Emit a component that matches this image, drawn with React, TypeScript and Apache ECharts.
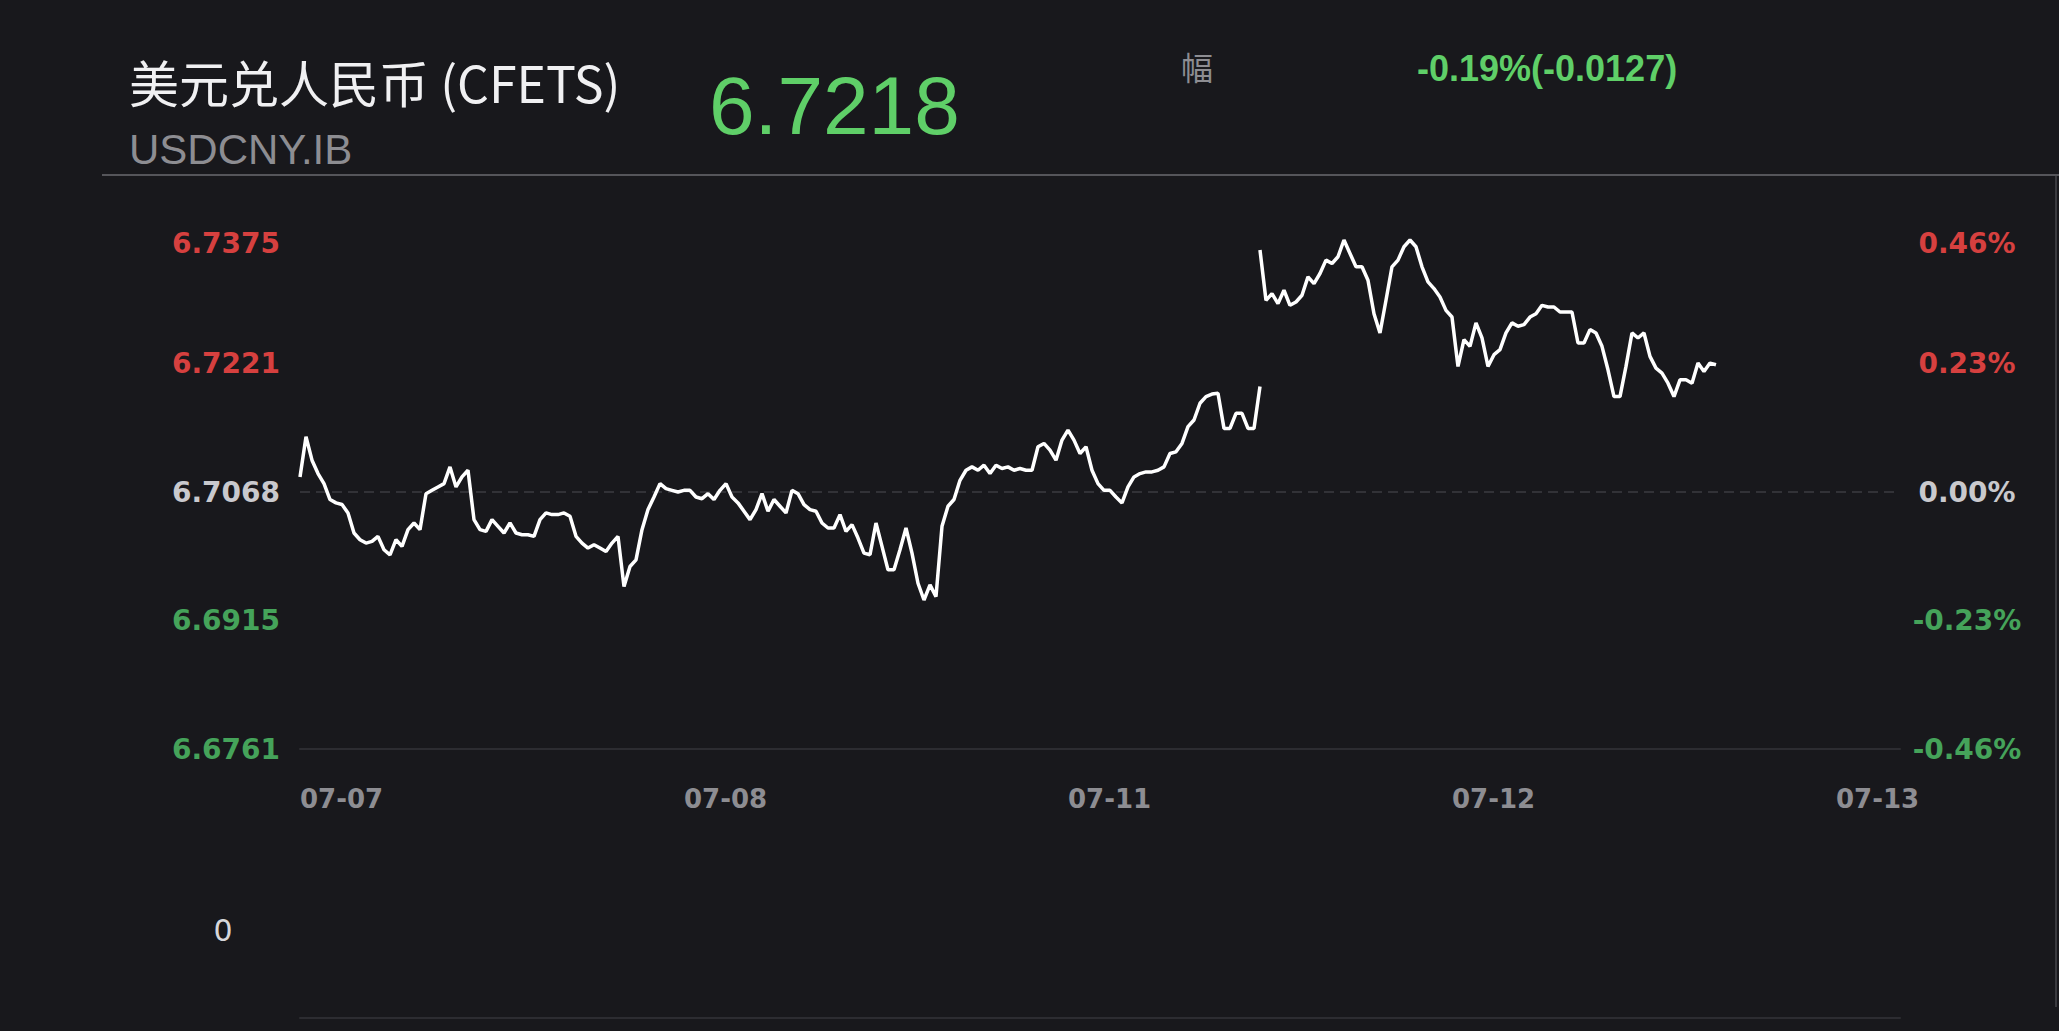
import React, { useEffect, useRef } from "react";
import * as echarts from "echarts";

// ---- data ----
const dayLabels = ["07-07", "07-08", "07-11", "07-12", "07-13"];
const priceTicks = [6.6761, 6.6915, 6.7068, 6.7221, 6.7375];
const baseValue = 6.7068;
const slotsPerDay = 64;
const axisSlots = 266.67;
const session2Start = 160;

// first session (07-07 .. mid 07-11)
const session1 = [
  6.7086, 6.7134, 6.7106, 6.709, 6.7078, 6.7059, 6.7055, 6.7053, 6.7043, 6.7019,
  6.7011, 6.7007, 6.7009, 6.7015, 6.6999, 6.6993, 6.7011, 6.7003, 6.7023, 6.7031,
  6.7023, 6.7066, 6.707, 6.7074, 6.7078, 6.7098, 6.7074, 6.7086, 6.7094, 6.7035,
  6.7023, 6.7021, 6.7035, 6.7027, 6.7019, 6.7031, 6.7019, 6.7017, 6.7017, 6.7015,
  6.7035, 6.7043, 6.7041, 6.7041, 6.7043, 6.7039, 6.7015, 6.7007, 6.7001, 6.7005,
  6.7001, 6.6997, 6.7007, 6.7015, 6.6955, 6.6979, 6.6987, 6.7023, 6.7047, 6.7062,
  6.7078, 6.7072, 6.707, 6.7068, 6.707, 6.707, 6.7062, 6.706, 6.7066, 6.7059,
  6.707, 6.7078, 6.7062, 6.7055, 6.7045, 6.7035, 6.7047, 6.7066, 6.7045, 6.7059,
  6.7051, 6.7043, 6.707, 6.7066, 6.7053, 6.7047, 6.7045, 6.7031, 6.7025, 6.7025,
  6.7041, 6.7021, 6.7029, 6.7013, 6.6995, 6.6993, 6.7031, 6.7003, 6.6975, 6.6975,
  6.6999, 6.7025, 6.6995, 6.6959, 6.6939, 6.6957, 6.6943, 6.7027, 6.7051, 6.7059,
  6.7082, 6.7094, 6.7098, 6.7094, 6.71, 6.709, 6.71, 6.7096, 6.7098, 6.7094,
  6.7096, 6.7094, 6.7094, 6.7122, 6.7126, 6.7118, 6.7106, 6.713, 6.7142, 6.713,
  6.7114, 6.7122, 6.7094, 6.7078, 6.707, 6.707, 6.7062, 6.7055, 6.7074, 6.7086,
  6.709, 6.7092, 6.7092, 6.7094, 6.7098, 6.7114, 6.7116, 6.7126, 6.7146, 6.7154,
  6.7174, 6.7182, 6.7185, 6.7186, 6.7144, 6.7144, 6.7162, 6.7162, 6.7144, 6.7144,
  6.7194,
];

// second session (mid 07-11 .. 07-12)
const session2 = [
  6.7357, 6.7297, 6.7305, 6.7293, 6.7309, 6.7291, 6.7295, 6.7303, 6.7325, 6.7317,
  6.7329, 6.7345, 6.7341, 6.7349, 6.7369, 6.7353, 6.7337, 6.7337, 6.7321, 6.7281,
  6.7258, 6.7297, 6.7337, 6.7345, 6.7361, 6.7369, 6.7361, 6.7337, 6.7319, 6.7311,
  6.7301, 6.7285, 6.7277, 6.7218, 6.725, 6.7242, 6.727, 6.7252, 6.7218, 6.7232,
  6.7238, 6.7258, 6.727, 6.7266, 6.7268, 6.7277, 6.7281, 6.7291, 6.7289, 6.7289,
  6.7283, 6.7283, 6.7283, 6.7246, 6.7246, 6.7262, 6.7258, 6.7242, 6.7214, 6.7182,
  6.7182, 6.7218, 6.7258, 6.7252, 6.7258, 6.723, 6.7216, 6.721, 6.7198, 6.7182,
  6.7202, 6.7202, 6.7198, 6.7222, 6.7212, 6.7222, 6.722,
];

const titleText = "美元兑人民币 (CFETS)";
const codeText = "USDCNY.IB";
const lastPrice = "6.7218";
const changeLabel = "幅";
const changeText = "-0.19%(-0.0127)";
const volumeZero = "0";

const BG = "#18181c";
const RED = "#d6403f";
const GREEN = "#45a35a";
const NEUTRAL = "#c9c9cd";
const HEAD_GREEN = "#5fcf68";
const GRAY = "#8d8d92";

function isTop(v: number) {
  return Math.abs(v - priceTicks[priceTicks.length - 1]) < 1e-6;
}
function keyFor(v: number) {
  return Math.abs(v - baseValue) < 1e-6 ? "n" : v > baseValue ? "u" : "d";
}
function priceLabel(v: number) {
  return `{${keyFor(v)}${isTop(v) ? "t" : ""}|${Number(v).toFixed(4)}}`;
}
function pctLabel(v: number) {
  const p = (v / baseValue - 1) * 100;
  const txt = (Math.abs(p) < 0.005 ? "0.00" : p.toFixed(2)) + "%";
  return `{${keyFor(v)}${isTop(v) ? "t" : ""}|${txt}}`;
}

const labelFont = { fontFamily: "DejaVu Sans", fontWeight: "bold" as const, fontSize: 28 };
const rich = {
  u: { color: RED, ...labelFont },
  d: { color: GREEN, ...labelFont },
  n: { color: NEUTRAL, ...labelFont },
  ut: { color: RED, ...labelFont, padding: [16, 0, 0, 0] },
};

export default function App() {
  const ref = useRef<HTMLDivElement>(null);

  useEffect(() => {
    if (!ref.current) return;
    const chart = echarts.init(ref.current, null, { renderer: "svg" });
    const lineStyle = { color: "#ffffff", width: 3.5, join: "bevel" as const };
    const option: any = {
      animation: false,
      backgroundColor: BG,
      grid: [
        { left: 300, right: 159, top: 235, height: 514 },
        { left: 300, right: 159, top: 842, height: 176 },
      ],
      xAxis: [
        {
          type: "value",
          gridIndex: 0,
          min: 0,
          max: axisSlots,
          axisLine: { show: true, lineStyle: { color: "#2c2c31", width: 2 } },
          axisTick: { show: false },
          splitLine: { show: false },
          axisLabel: {
            customValues: dayLabels.map((_, d) => d * slotsPerDay),
            formatter: (v: number) => dayLabels[Math.round(v / slotsPerDay)],
            align: "left",
            margin: 37,
            color: GRAY,
            fontFamily: "DejaVu Sans",
            fontWeight: "bold",
            fontSize: 26,
          },
        },
        {
          type: "value",
          gridIndex: 1,
          min: 0,
          max: axisSlots,
          axisLine: { show: true, lineStyle: { color: "#2c2c31", width: 2 } },
          axisTick: { show: false },
          axisLabel: { show: false },
          splitLine: { show: false },
        },
      ],
      yAxis: [
        {
          type: "value",
          gridIndex: 0,
          min: priceTicks[0],
          max: priceTicks[priceTicks.length - 1],
          position: "left",
          axisLine: { show: false },
          axisTick: { show: false },
          splitLine: { show: false },
          axisLabel: {
            customValues: priceTicks,
            formatter: priceLabel,
            rich,
            align: "right",
            margin: 20,
          },
        },
        {
          type: "value",
          gridIndex: 0,
          min: priceTicks[0],
          max: priceTicks[priceTicks.length - 1],
          position: "right",
          axisLine: { show: false },
          axisTick: { show: false },
          splitLine: { show: false },
          axisLabel: {
            customValues: priceTicks,
            formatter: pctLabel,
            rich,
            align: "center",
            margin: 67,
          },
        },
        {
          type: "value",
          gridIndex: 1,
          min: 0,
          max: 1,
          axisLine: { show: false },
          axisTick: { show: false },
          splitLine: { show: false },
          axisLabel: { show: false },
        },
      ],
      series: [
        {
          type: "line",
          xAxisIndex: 0,
          yAxisIndex: 0,
          data: [
            [0, baseValue],
            [axisSlots, baseValue],
          ],
          showSymbol: false,
          silent: true,
          z: 1,
          lineStyle: { color: "#3b3b40", type: [10, 6], width: 1.5 },
        },
        {
          type: "line",
          xAxisIndex: 0,
          yAxisIndex: 0,
          data: session1.map((v, i) => [i, v]),
          showSymbol: false,
          z: 3,
          lineStyle,
          itemStyle: { color: "#ffffff" },
        },
        {
          type: "line",
          xAxisIndex: 0,
          yAxisIndex: 0,
          data: session2.map((v, k) => [session2Start + k, v]),
          showSymbol: false,
          z: 3,
          lineStyle,
          itemStyle: { color: "#ffffff" },
        },
      ],
      graphic: [
        {
          type: "text",
          x: 129,
          y: 81,
          style: {
            text: titleText,
            fill: "#f0f0f2",
            fontFamily: "Noto Sans CJK SC",
            fontSize: 50,
            textAlign: "left",
            textVerticalAlign: "middle",
          },
        },
        {
          type: "text",
          x: 129,
          y: 149,
          style: {
            text: codeText,
            fill: GRAY,
            fontFamily: "Liberation Sans",
            fontSize: 42,
            textAlign: "left",
            textVerticalAlign: "middle",
          },
        },
        {
          type: "text",
          x: 709,
          y: 105,
          style: {
            text: lastPrice,
            fill: HEAD_GREEN,
            fontFamily: "Liberation Sans",
            fontSize: 82,
            textAlign: "left",
            textVerticalAlign: "middle",
          },
        },
        {
          type: "text",
          x: 1197,
          y: 66,
          style: {
            text: changeLabel,
            fill: GRAY,
            fontFamily: "Noto Sans CJK SC",
            fontSize: 32,
            textAlign: "center",
            textVerticalAlign: "middle",
          },
        },
        {
          type: "text",
          x: 1417,
          y: 68,
          style: {
            text: changeText,
            fill: HEAD_GREEN,
            fontFamily: "Liberation Sans",
            fontWeight: "bold",
            fontSize: 36,
            textAlign: "left",
            textVerticalAlign: "middle",
          },
        },
        {
          type: "text",
          x: 223,
          y: 930,
          style: {
            text: volumeZero,
            fill: "#d6d6da",
            fontFamily: "DejaVu Sans",
            fontSize: 30,
            textAlign: "center",
            textVerticalAlign: "middle",
          },
        },
        {
          type: "line",
          shape: { x1: 102, y1: 175, x2: 2059, y2: 175 },
          style: { stroke: "#55555a", lineWidth: 2 },
        },
        {
          type: "line",
          shape: { x1: 2056, y1: 176, x2: 2056, y2: 1007 },
          style: { stroke: "#3a3a3f", lineWidth: 2 },
        },
      ],
    };
    chart.setOption(option);
    return () => chart.dispose();
  }, []);

  return (
    <div
      ref={ref}
      style={{
        position: "fixed",
        left: 0,
        top: 0,
        width: 2059,
        height: 1031,
        background: BG,
      }}
    />
  );
}
